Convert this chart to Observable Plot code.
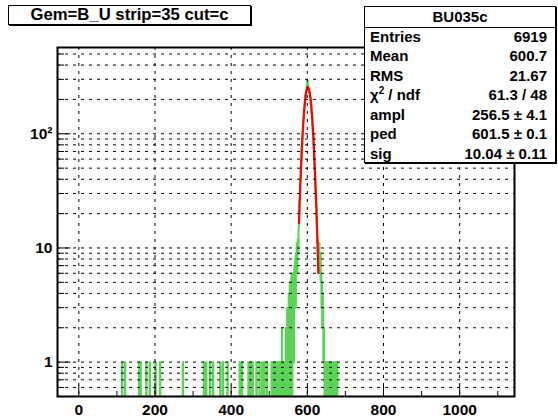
<!DOCTYPE html>
<html><head><meta charset="utf-8">
<script src="https://cdn.jsdelivr.net/npm/d3@7"></script>
<script src="https://cdn.jsdelivr.net/npm/@observablehq/plot@0.6"></script>
<style>
body{margin:0;background:#fff;}
#wrap{position:relative;width:558px;height:417px;overflow:hidden;background:#fff;font-family:"Liberation Sans",Arial,sans-serif;font-weight:bold;color:#000;}
.box{position:absolute;background:#fff;border:1px solid #000;box-shadow:1px 1px 0 #000;box-sizing:border-box;}
#title{left:8px;top:5px;width:243px;height:20px;font-size:16.7px;line-height:18px;text-align:center;}
#stats{left:364px;top:6px;width:192px;height:157px;font-size:15px;}
.row{position:absolute;left:0;right:0;height:19.5px;line-height:19.5px;}
.row .l{position:absolute;left:5px;}
.row .v{position:absolute;right:8px;}
.hdr{text-align:center;border-bottom:1px solid #000;}
sup{font-size:10px;vertical-align:6px;line-height:0;}
</style></head><body><div id="wrap"></div>
<script>
// ---- data ----
const xDomain = [-56, 1144];
const yDomain = [0.5, 570];
const xMajorTicks = [0, 200, 400, 600, 800, 1000];
const xMinorTicks = [100, 300, 500, 700, 900, 1100];
const yMajorTicks = [1, 10, 100];
const yMinorTicks = [0.6, 0.7, 0.8, 0.9, 2, 3, 4, 5, 6, 7, 8, 9, 20, 30, 40, 50, 60, 70, 80, 90, 200, 300, 400, 500];
const yTickLabels = ["1", "10", "10\u00B2"];
// bins (width 1) holding a single entry, below the core region
const isolatedBins = [113, 121, 158, 162, 177, 186, 201, 213, 273, 328, 334, 344, 352, 371, 378, 390, 422, 428, 445, 451, 456, 466, 474, 481, 486, 493];
// core region counts, bins of width 1 starting at coreStart
const coreStart = 500;
const coreCounts = [
  0,0,0,0,0,0,1,0,1,1,
  0,1,0,0,1,0,1,1,0,1,
  0,1,0,1,0,0,1,0,1,0,
  1,0,1,2,0,1,0,1,0,0,
  1,0,0,1,2,0,1,3,0,2,
  2,4,0,3,5,1,0,4,6,2,
  0,5,3,6,1,4,7,5,8,3,
  9,7,11,6,10,12,9,15,17,25,
  27,37,40,55,58,76,81,102,106,131,
  138,162,168,193,197,221,230,241,262,276,
  291,268,259,244,249,230,224,209,204,180,
  175,150,144,119,108,99,80,70,57,49,
  41,33,27,24,17,15,11,12,9,10,
  8,11,6,7,9,5,6,3,5,2,
  4,3,1,2,1,0,1,0,1,0,
  1,1,0,1,0,0,1,0,1,1,
  0,1,0,1,0,0,1,1,0,1,
  0,1,0,0,1,0,1,0,1,0,
  0,0,0,0,0,0,0,0,0,0
];
// fit (gaussian) parameters shown in the stats box
const fitAmpl = 256.5, fitMean = 601.5, fitSigma = 10.04;
const fitRange = [578, 629];
const histName = "BU035c";
const titleText = "Gem=B_U strip=35 cut=c";
const statLabels = ["Entries", "Mean", "RMS", "\u03C7<sup>2</sup> / ndf", "ampl", "ped", "sig"];
const statValues = ["6919", "600.7", "21.67", "61.3 / 48", "256.5 \u00B1 4.1", "601.5 \u00B1 0.1", "10.04 \u00B1 0.11"];

// ---- build tables ----
const countAt = new Map();
isolatedBins.forEach(u => countAt.set(u, 1));
coreCounts.forEach((c, i) => countAt.set(coreStart + i, c));
const hist = [];
for (let u = xDomain[0]; u < xDomain[1]; u++) hist.push({x: u, c: countAt.get(u) || 0});
hist.push({x: xDomain[1], c: 0});
const fitPts = [];
for (let x = fitRange[0]; x <= fitRange[1] + 1e-9; x += 0.25)
  fitPts.push({x, y: fitAmpl * Math.exp(-0.5 * ((x - fitMean) / fitSigma) ** 2)});

const W = 558, H = 417, mL = 57, mR = 44, mT = 47, mB = 21;
const fw = W - mL - mR, fh = H - mT - mB;
const dots = "3,5";

const chart = Plot.plot({
  width: W, height: H,
  marginLeft: mL, marginRight: mR, marginTop: mT, marginBottom: mB,
  x: {domain: xDomain, axis: null},
  y: {type: "log", domain: yDomain, axis: null},
  style: {fontFamily: "'Liberation Sans', Arial, sans-serif", background: "#fff"},
  marks: [
    Plot.lineY(hist, {x: "x", y: d => Math.max(d.c, 0.3), curve: "step-after", stroke: "#59d454", strokeWidth: 2, clip: true}),
    Plot.line(fitPts, {x: "x", y: "y", stroke: "#ff0000", strokeWidth: 2.2, clip: true}),
    Plot.ruleY([...yMajorTicks, ...yMinorTicks], {y: d => d, stroke: "#000", strokeWidth: 1, strokeDasharray: dots}),
    Plot.ruleX(xMajorTicks, {x: d => d, stroke: "#000", strokeWidth: 1, strokeDasharray: dots}),
    Plot.ruleX(xMajorTicks, {x: d => d, insetTop: fh - 10.5, stroke: "#000", strokeWidth: 1}),
    Plot.ruleX(xMinorTicks, {x: d => d, insetTop: fh - 5, stroke: "#000", strokeWidth: 1}),
    Plot.ruleY(yMajorTicks, {y: d => d, insetRight: fw - 13.5, stroke: "#000", strokeWidth: 1}),
    Plot.ruleY(yMinorTicks, {y: d => d, insetRight: fw - 7, stroke: "#000", strokeWidth: 1}),
    Plot.frame({stroke: "#000", strokeWidth: 2}),
    Plot.text(xMajorTicks, {x: d => d, frameAnchor: "bottom", dy: 14, text: d => String(d), lineAnchor: "middle", fontSize: 15.5, fontWeight: "bold", fill: "#000"}),
    Plot.text(yMajorTicks, {y: d => d, frameAnchor: "left", dx: -5, textAnchor: "end", text: (d, i) => yTickLabels[i], fontSize: 15.5, fontWeight: "bold", fill: "#000"})
  ]
});
const wrap = document.getElementById("wrap");
wrap.appendChild(chart);

const t = document.createElement("div");
t.className = "box"; t.id = "title"; t.textContent = titleText;
wrap.appendChild(t);

const s = document.createElement("div");
s.className = "box"; s.id = "stats";
let html = `<div class="row hdr" style="top:0">${histName}</div>`;
statLabels.forEach((l, i) => {
  html += `<div class="row" style="top:${19.5 * (i + 1)}px"><span class="l">${l}</span><span class="v">${statValues[i]}</span></div>`;
});
s.innerHTML = html;
wrap.appendChild(s);
</script>
</body></html>
